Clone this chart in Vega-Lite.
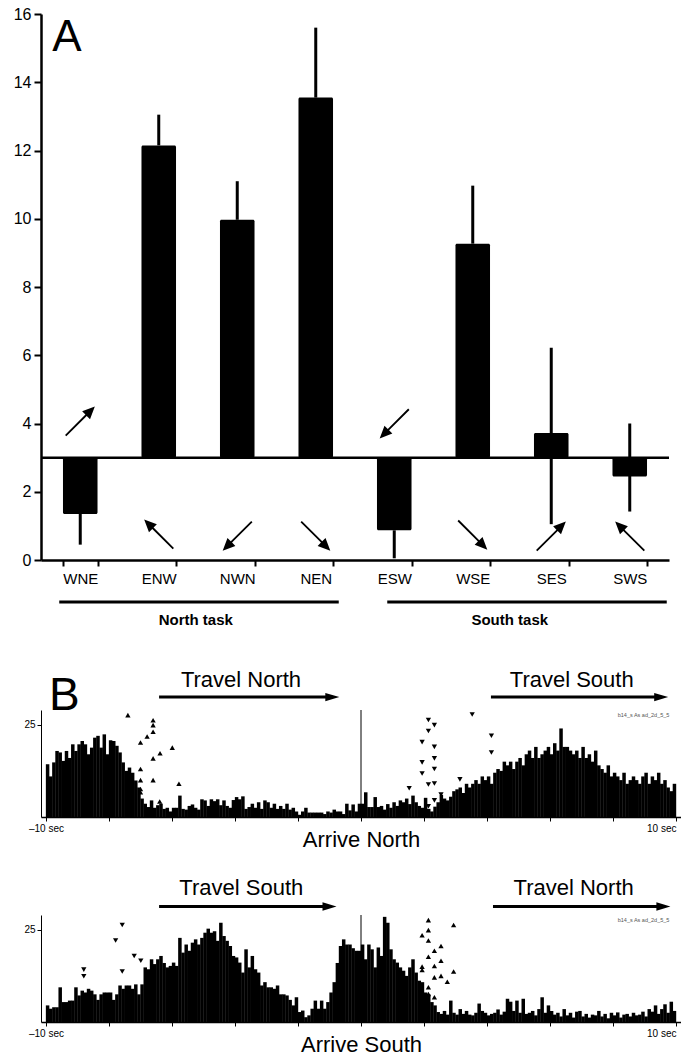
{
  "$schema": "https://vega.github.io/schema/vega-lite/v6.json",
  "padding": {"left": 13, "top": 6, "right": 0, "bottom": 0},
  "autosize": {"type": "pad"},
  "bounds": "flush",
  "spacing": 150,
  "config": {
    "view": {"stroke": null},
    "font": "Liberation Sans",
    "axis": {"grid": false, "domainColor": "black", "tickColor": "black", "labelColor": "black", "titleColor": "black"}
  },
  "datasets": {
    "dirs": [
      {"dir": "WNE", "mean": 1.35, "lo": 0.45, "hi": 1.35, "ay": 4.07, "heading": 45},
      {"dir": "ENW", "mean": 12.15, "lo": 12.15, "hi": 13.05, "ay": 0.76, "heading": 315},
      {"dir": "NWN", "mean": 9.97, "lo": 9.97, "hi": 11.1, "ay": 0.7, "heading": 225},
      {"dir": "NEN", "mean": 13.55, "lo": 13.55, "hi": 15.6, "ay": 0.7, "heading": 135},
      {"dir": "ESW", "mean": 0.87, "lo": 0.05, "hi": 0.87, "ay": 3.99, "heading": 225},
      {"dir": "WSE", "mean": 9.27, "lo": 9.27, "hi": 10.97, "ay": 0.73, "heading": 135},
      {"dir": "SES", "mean": 3.72, "lo": 1.05, "hi": 6.22, "ay": 0.7, "heading": 45},
      {"dir": "SWS", "mean": 2.45, "lo": 1.42, "hi": 4.0, "ay": 0.7, "heading": 315}
    ],
    "north": [
      {"t":-10,"n":14.3},{"t":-9.9,"n":11},{"t":-9.8,"n":14.8},{"t":-9.7,"n":17.9},{"t":-9.6,"n":17.5},{"t":-9.5,"n":15.2},{"t":-9.4,"n":17.9},{"t":-9.3,"n":16},{"t":-9.2,"n":19.7},{"t":-9.1,"n":17.9},
      {"t":-9,"n":19.7},{"t":-8.9,"n":20.6},{"t":-8.8,"n":19.7},{"t":-8.7,"n":17},{"t":-8.6,"n":18.8},{"t":-8.5,"n":21.5},{"t":-8.4,"n":22},{"t":-8.3,"n":18.8},{"t":-8.2,"n":22.4},{"t":-8.1,"n":17},
      {"t":-8,"n":20.8},{"t":-7.9,"n":20.6},{"t":-7.8,"n":19.3},{"t":-7.7,"n":17.5},{"t":-7.6,"n":14.8},{"t":-7.5,"n":12.5},{"t":-7.4,"n":13.4},{"t":-7.3,"n":12},{"t":-7.2,"n":9.9},{"t":-7.1,"n":8},
      {"t":-7,"n":5},{"t":-6.9,"n":3.6},{"t":-6.8,"n":2.7},{"t":-6.7,"n":4.5},{"t":-6.6,"n":2.5},{"t":-6.5,"n":3.2},{"t":-6.4,"n":3.6},{"t":-6.3,"n":2.2},{"t":-6.2,"n":2.5},{"t":-6.1,"n":1.5},
      {"t":-6,"n":2.5},{"t":-5.9,"n":2.5},{"t":-5.8,"n":5.8},{"t":-5.7,"n":2.2},{"t":-5.6,"n":2},{"t":-5.5,"n":3},{"t":-5.4,"n":3.4},{"t":-5.3,"n":2.5},{"t":-5.2,"n":2},{"t":-5.1,"n":4.8},
      {"t":-5,"n":4.5},{"t":-4.9,"n":3},{"t":-4.8,"n":4.8},{"t":-4.7,"n":4.3},{"t":-4.6,"n":4.8},{"t":-4.5,"n":3.2},{"t":-4.4,"n":4.5},{"t":-4.3,"n":3},{"t":-4.2,"n":2.5},{"t":-4.1,"n":4.6},
      {"t":-4,"n":5.4},{"t":-3.9,"n":4.8},{"t":-3.8,"n":5.6},{"t":-3.7,"n":2.2},{"t":-3.6,"n":2.7},{"t":-3.5,"n":3.6},{"t":-3.4,"n":2.5},{"t":-3.3,"n":4},{"t":-3.2,"n":2.2},{"t":-3.1,"n":4.5},
      {"t":-3,"n":4},{"t":-2.9,"n":2.5},{"t":-2.8,"n":3.6},{"t":-2.7,"n":2.2},{"t":-2.6,"n":3},{"t":-2.5,"n":2.2},{"t":-2.4,"n":3.6},{"t":-2.3,"n":2},{"t":-2.2,"n":2.5},{"t":-2.1,"n":1.5},
      {"t":-2,"n":0.6},{"t":-1.9,"n":1.5},{"t":-1.8,"n":2.5},{"t":-1.7,"n":1.2},{"t":-1.6,"n":1.2},{"t":-1.5,"n":1.2},{"t":-1.4,"n":1.2},{"t":-1.3,"n":1.2},{"t":-1.2,"n":0.8},{"t":-1.1,"n":1.5},
      {"t":-1,"n":1.2},{"t":-0.9,"n":2},{"t":-0.8,"n":1.5},{"t":-0.7,"n":1.5},{"t":-0.6,"n":0.8},{"t":-0.5,"n":3.6},{"t":-0.4,"n":1.8},{"t":-0.3,"n":3.4},{"t":-0.2,"n":1.5},{"t":-0.1,"n":3.6},
      {"t":0,"n":3.6},{"t":0.1,"n":6.7},{"t":0.2,"n":2.7},{"t":0.3,"n":2.7},{"t":0.4,"n":5.4},{"t":0.5,"n":2.7},{"t":0.6,"n":3},{"t":0.7,"n":2},{"t":0.8,"n":3.5},{"t":0.9,"n":2.5},
      {"t":1,"n":4},{"t":1.1,"n":3},{"t":1.2,"n":4.5},{"t":1.3,"n":4},{"t":1.4,"n":5},{"t":1.5,"n":3.5},{"t":1.6,"n":5.8},{"t":1.7,"n":4},{"t":1.8,"n":3},{"t":1.9,"n":2.5},
      {"t":2,"n":5.2},{"t":2.1,"n":2.2},{"t":2.2,"n":1.5},{"t":2.3,"n":2.8},{"t":2.4,"n":4},{"t":2.5,"n":6},{"t":2.6,"n":5},{"t":2.7,"n":4.5},{"t":2.8,"n":5.5},{"t":2.9,"n":7},
      {"t":3,"n":7.5},{"t":3.1,"n":8},{"t":3.2,"n":6.5},{"t":3.3,"n":9},{"t":3.4,"n":8},{"t":3.5,"n":9},{"t":3.6,"n":10},{"t":3.7,"n":9},{"t":3.8,"n":11},{"t":3.9,"n":10},
      {"t":4,"n":11},{"t":4.1,"n":9},{"t":4.2,"n":12},{"t":4.3,"n":13},{"t":4.4,"n":12.5},{"t":4.5,"n":15},{"t":4.6,"n":14},{"t":4.7,"n":15},{"t":4.8,"n":13},{"t":4.9,"n":15},
      {"t":5,"n":16},{"t":5.1,"n":14},{"t":5.2,"n":17},{"t":5.3,"n":18},{"t":5.4,"n":16},{"t":5.5,"n":19},{"t":5.6,"n":16},{"t":5.7,"n":17},{"t":5.8,"n":18},{"t":5.9,"n":19},
      {"t":6,"n":17},{"t":6.1,"n":20},{"t":6.2,"n":18},{"t":6.3,"n":24},{"t":6.4,"n":19},{"t":6.5,"n":19},{"t":6.6,"n":18},{"t":6.7,"n":17},{"t":6.8,"n":18},{"t":6.9,"n":16},
      {"t":7,"n":19},{"t":7.1,"n":16},{"t":7.2,"n":17},{"t":7.3,"n":15},{"t":7.4,"n":18},{"t":7.5,"n":14},{"t":7.6,"n":13},{"t":7.7,"n":12},{"t":7.8,"n":14},{"t":7.9,"n":11},
      {"t":8,"n":12},{"t":8.1,"n":11},{"t":8.2,"n":10},{"t":8.3,"n":12},{"t":8.4,"n":9},{"t":8.5,"n":10},{"t":8.6,"n":11},{"t":8.7,"n":10},{"t":8.8,"n":9},{"t":8.9,"n":11},
      {"t":9,"n":12},{"t":9.1,"n":9},{"t":9.2,"n":11},{"t":9.3,"n":10},{"t":9.4,"n":12},{"t":9.5,"n":9},{"t":9.6,"n":10},{"t":9.7,"n":8},{"t":9.8,"n":7},{"t":9.9,"n":9}
    ],
    "south": [
      {"t":-10,"n":4.5},{"t":-9.9,"n":3.6},{"t":-9.8,"n":4},{"t":-9.7,"n":4},{"t":-9.6,"n":9.4},{"t":-9.5,"n":5.4},{"t":-9.4,"n":5.4},{"t":-9.3,"n":5.8},{"t":-9.2,"n":5.8},{"t":-9.1,"n":9.4},
      {"t":-9,"n":7.2},{"t":-8.9,"n":8.5},{"t":-8.8,"n":8},{"t":-8.7,"n":9},{"t":-8.6,"n":8.5},{"t":-8.5,"n":7.5},{"t":-8.4,"n":6},{"t":-8.3,"n":7.5},{"t":-8.2,"n":8},{"t":-8.1,"n":8},
      {"t":-8,"n":8},{"t":-7.9,"n":6},{"t":-7.8,"n":7.5},{"t":-7.7,"n":9.9},{"t":-7.6,"n":9},{"t":-7.5,"n":9.9},{"t":-7.4,"n":9.9},{"t":-7.3,"n":9},{"t":-7.2,"n":10.2},{"t":-7.1,"n":7.5},
      {"t":-7,"n":10.2},{"t":-6.9,"n":14.8},{"t":-6.8,"n":14.3},{"t":-6.7,"n":17},{"t":-6.6,"n":15.7},{"t":-6.5,"n":17},{"t":-6.4,"n":17.9},{"t":-6.3,"n":16},{"t":-6.2,"n":14.8},{"t":-6.1,"n":15.2},
      {"t":-6,"n":16.1},{"t":-5.9,"n":15.2},{"t":-5.8,"n":22.8},{"t":-5.7,"n":18.8},{"t":-5.6,"n":21},{"t":-5.5,"n":19.3},{"t":-5.4,"n":21.5},{"t":-5.3,"n":22.4},{"t":-5.2,"n":21},{"t":-5.1,"n":22.8},
      {"t":-5,"n":24.2},{"t":-4.9,"n":25.3},{"t":-4.8,"n":24.2},{"t":-4.7,"n":24.6},{"t":-4.6,"n":22},{"t":-4.5,"n":26.9},{"t":-4.4,"n":23.3},{"t":-4.3,"n":22},{"t":-4.2,"n":20.6},{"t":-4.1,"n":17.9},
      {"t":-4,"n":17.5},{"t":-3.9,"n":16.1},{"t":-3.8,"n":13.4},{"t":-3.7,"n":19.7},{"t":-3.6,"n":14.8},{"t":-3.5,"n":17.9},{"t":-3.4,"n":14.3},{"t":-3.3,"n":13.4},{"t":-3.2,"n":9.9},{"t":-3.1,"n":10.8},
      {"t":-3,"n":9.4},{"t":-2.9,"n":9.4},{"t":-2.8,"n":9},{"t":-2.7,"n":9.9},{"t":-2.6,"n":7.5},{"t":-2.5,"n":7.5},{"t":-2.4,"n":7.2},{"t":-2.3,"n":6},{"t":-2.2,"n":4.5},{"t":-2.1,"n":6.7},
      {"t":-2,"n":2.7},{"t":-1.9,"n":3.1},{"t":-1.8,"n":1.3},{"t":-1.7,"n":1.8},{"t":-1.6,"n":3.6},{"t":-1.5,"n":5.8},{"t":-1.4,"n":3.6},{"t":-1.3,"n":5.8},{"t":-1.2,"n":3.6},{"t":-1.1,"n":5.4},
      {"t":-1,"n":8},{"t":-0.9,"n":10.8},{"t":-0.8,"n":16},{"t":-0.7,"n":20.6},{"t":-0.6,"n":22.4},{"t":-0.5,"n":21},{"t":-0.4,"n":21},{"t":-0.3,"n":20},{"t":-0.2,"n":19.3},{"t":-0.1,"n":19.3},
      {"t":0,"n":21},{"t":0.1,"n":17},{"t":0.2,"n":21},{"t":0.3,"n":19.7},{"t":0.4,"n":14.8},{"t":0.5,"n":20.2},{"t":0.6,"n":17.9},{"t":0.7,"n":28.5},{"t":0.8,"n":26.9},{"t":0.9,"n":19.7},
      {"t":1,"n":17},{"t":1.1,"n":16.1},{"t":1.2,"n":14.8},{"t":1.3,"n":13.9},{"t":1.4,"n":12.5},{"t":1.5,"n":14.8},{"t":1.6,"n":17},{"t":1.7,"n":13.4},{"t":1.8,"n":11.2},{"t":1.9,"n":10.8},
      {"t":2,"n":8},{"t":2.1,"n":7.5},{"t":2.2,"n":5.4},{"t":2.3,"n":4.5},{"t":2.4,"n":2.7},{"t":2.5,"n":2.2},{"t":2.6,"n":3},{"t":2.7,"n":2},{"t":2.8,"n":5.8},{"t":2.9,"n":2.5},
      {"t":3,"n":2},{"t":3.1,"n":3.5},{"t":3.2,"n":2.2},{"t":3.3,"n":3},{"t":3.4,"n":2},{"t":3.5,"n":1.8},{"t":3.6,"n":2.5},{"t":3.7,"n":5},{"t":3.8,"n":3},{"t":3.9,"n":2.5},
      {"t":4,"n":1.8},{"t":4.1,"n":2.2},{"t":4.2,"n":2.5},{"t":4.3,"n":3.4},{"t":4.4,"n":2},{"t":4.5,"n":2.8},{"t":4.6,"n":6.3},{"t":4.7,"n":5.5},{"t":4.8,"n":3},{"t":4.9,"n":5.8},
      {"t":5,"n":2.5},{"t":5.1,"n":6.3},{"t":5.2,"n":2.2},{"t":5.3,"n":2.5},{"t":5.4,"n":3},{"t":5.5,"n":1.8},{"t":5.6,"n":3.5},{"t":5.7,"n":6.7},{"t":5.8,"n":2.5},{"t":5.9,"n":4.5},
      {"t":6,"n":3},{"t":6.1,"n":2},{"t":6.2,"n":2.5},{"t":6.3,"n":1.5},{"t":6.4,"n":3.5},{"t":6.5,"n":1.8},{"t":6.6,"n":2.5},{"t":6.7,"n":1.2},{"t":6.8,"n":2.8},{"t":6.9,"n":3},
      {"t":7,"n":1.5},{"t":7.1,"n":2.2},{"t":7.2,"n":1.2},{"t":7.3,"n":2},{"t":7.4,"n":1.8},{"t":7.5,"n":3},{"t":7.6,"n":1.5},{"t":7.7,"n":2.2},{"t":7.8,"n":1},{"t":7.9,"n":2.5},
      {"t":8,"n":1.8},{"t":8.1,"n":2.6},{"t":8.2,"n":1.2},{"t":8.3,"n":2},{"t":8.4,"n":2.2},{"t":8.5,"n":1.5},{"t":8.6,"n":2.5},{"t":8.7,"n":1.8},{"t":8.8,"n":2},{"t":8.9,"n":2.8},
      {"t":9,"n":1.5},{"t":9.1,"n":3.5},{"t":9.2,"n":2.8},{"t":9.3,"n":4.5},{"t":9.4,"n":2.2},{"t":9.5,"n":3.5},{"t":9.6,"n":4.8},{"t":9.7,"n":2.5},{"t":9.8,"n":5.5},{"t":9.9,"n":3}
    ],
    "north_ev": [
      {"t":-7.4,"v":27.6,"kind":"up"},{"t":-7.0,"v":20.2,"kind":"up"},{"t":-6.79,"v":21.8,"kind":"up"},{"t":-6.6,"v":26.2,"kind":"up"},{"t":-6.6,"v":24.9,"kind":"up"},{"t":-6.6,"v":23.1,"kind":"up"},{"t":-6.38,"v":17.3,"kind":"up"},{"t":-6.6,"v":15.9,"kind":"up"},{"t":-5.99,"v":18.8,"kind":"up"},{"t":-7.0,"v":13,"kind":"up"},{"t":-7.0,"v":10,"kind":"up"},{"t":-7.0,"v":7.6,"kind":"up"},{"t":-7.0,"v":6.7,"kind":"up"},{"t":-6.6,"v":10,"kind":"up"},{"t":-5.78,"v":9,"kind":"up"},{"t":-6.39,"v":4.2,"kind":"up"},
      {"t":2.14,"v":26.3,"kind":"down"},{"t":2.33,"v":24.9,"kind":"down"},{"t":2.14,"v":23.3,"kind":"down"},{"t":1.94,"v":20.3,"kind":"down"},{"t":2.33,"v":19,"kind":"down"},{"t":2.33,"v":15.9,"kind":"down"},{"t":1.94,"v":14.8,"kind":"down"},{"t":1.94,"v":11.8,"kind":"down"},{"t":2.33,"v":13,"kind":"down"},{"t":2.14,"v":8.8,"kind":"down"},{"t":2.33,"v":9.1,"kind":"down"},{"t":1.53,"v":7.8,"kind":"down"},{"t":3.14,"v":10.2,"kind":"down"},{"t":3.53,"v":27.8,"kind":"down"},{"t":4.14,"v":22,"kind":"down"},{"t":4.14,"v":17.5,"kind":"down"},{"t":2.33,"v":4.5,"kind":"down"},{"t":2.54,"v":6.1,"kind":"down"},{"t":2.14,"v":2.9,"kind":"down"}
    ],
    "south_ev": [
      {"t":-8.8,"v":14.2,"kind":"down"},{"t":-8.8,"v":12.4,"kind":"down"},{"t":-7.79,"v":22.1,"kind":"down"},{"t":-7.58,"v":26.3,"kind":"down"},{"t":-7.2,"v":17.9,"kind":"down"},{"t":-6.99,"v":16.6,"kind":"down"},{"t":-7.58,"v":13.7,"kind":"down"},
      {"t":2.14,"v":27.6,"kind":"up"},{"t":2.14,"v":24.9,"kind":"up"},{"t":1.94,"v":23.5,"kind":"up"},{"t":2.14,"v":22.1,"kind":"up"},{"t":2.54,"v":20.6,"kind":"up"},{"t":2.33,"v":19.3,"kind":"up"},{"t":2.14,"v":17.7,"kind":"up"},{"t":2.54,"v":16.6,"kind":"up"},{"t":2.33,"v":15.2,"kind":"up"},{"t":1.94,"v":15,"kind":"up"},{"t":1.94,"v":14.1,"kind":"up"},{"t":2.33,"v":12.1,"kind":"up"},{"t":2.54,"v":12.5,"kind":"up"},{"t":2.74,"v":10.9,"kind":"up"},{"t":2.94,"v":26.3,"kind":"up"},{"t":2.94,"v":13.7,"kind":"up"},{"t":2.14,"v":9.4,"kind":"up"},{"t":2.14,"v":7.6,"kind":"up"},{"t":2.33,"v":6.7,"kind":"up"}
    ]
  },
  "vconcat": [
    {
      "width": 628,
      "height": 546,
      "data": {"name": "dirs"},
      "layer": [
        {
          "mark": {"type": "bar", "color": "black", "cornerRadius": 1.5},
          "encoding": {
            "x": {"field": "dir", "type": "nominal", "sort": null,
                  "scale": {"domain": ["WNE","ENW","NWN","NEN","ESW","WSE","SES","SWS"], "paddingInner": 0.56, "paddingOuter": 0.28},
                  "axis": {"title": null, "labelAngle": 0, "labelFontSize": 15, "labelPadding": 5, "tickSize": 6, "tickWidth": 2, "domainWidth": 2.5, "tickBand": "extent"}},
            "y": {"field": "mean", "type": "quantitative",
                  "scale": {"domain": [0, 16], "nice": false},
                  "axis": {"title": null, "values": [0,2,4,6,8,10,12,14,16], "labelFontSize": 16, "tickSize": 7, "tickWidth": 2, "domainWidth": 2.5, "labelPadding": 3}},
            "y2": {"datum": 3}
          }
        },
        {
          "mark": {"type": "rule", "color": "black", "strokeWidth": 3},
          "encoding": {
            "x": {"field": "dir", "type": "nominal", "sort": null},
            "y": {"field": "lo", "type": "quantitative"},
            "y2": {"field": "hi"}
          }
        },
        {
          "data": {"values": [{}]},
          "mark": {"type": "rule", "color": "black", "strokeWidth": 2.5},
          "encoding": {"y": {"datum": 3}}
        },
        {
          "mark": {"type": "point", "shape": "M-0.045,1L0.045,1L0.045,-0.4L0.27,-0.4L0,-1L-0.27,-0.4L-0.045,-0.4Z", "size": 1700, "filled": true, "color": "black", "opacity": 1, "strokeWidth": 0},
          "encoding": {
            "x": {"field": "dir", "type": "nominal", "sort": null},
            "y": {"field": "ay", "type": "quantitative"},
            "angle": {"field": "heading", "type": "quantitative", "scale": null}
          }
        },
        {
          "data": {"values": [{"label": "A"}]},
          "mark": {"type": "text", "fontSize": 44, "align": "left", "baseline": "top", "dx": -28, "dy": 2, "color": "black"},
          "encoding": {
            "x": {"datum": "WNE"},
            "y": {"datum": 16},
            "text": {"field": "label"}
          }
        },
        {
          "data": {"values": [{"from": "WNE", "to": "NEN"}]},
          "mark": {"type": "rule", "color": "black", "strokeWidth": 3, "xOffset": -21, "x2Offset": 23},
          "encoding": {
            "x": {"field": "from", "type": "nominal"},
            "x2": {"field": "to"},
            "y": {"datum": -1.23}
          }
        },
        {
          "data": {"values": [{"from": "ESW", "to": "SWS"}]},
          "mark": {"type": "rule", "color": "black", "strokeWidth": 3, "xOffset": -7, "x2Offset": 37},
          "encoding": {
            "x": {"field": "from", "type": "nominal"},
            "x2": {"field": "to"},
            "y": {"datum": -1.23}
          }
        },
        {
          "data": {"values": [{"task": "North task", "mid": "ENW"}, {"task": "South task", "mid": "WSE"}]},
          "mark": {"type": "text", "fontSize": 15, "fontWeight": "bold", "dx": 37, "color": "black"},
          "encoding": {
            "x": {"field": "mid", "type": "nominal"},
            "y": {"datum": -1.76},
            "text": {"field": "task"}
          }
        }
      ]
    },
    {
      "bounds": "flush",
      "spacing": 98,
      "vconcat": [
        {
          "width": 640,
          "height": 107,
          "layer": [
            {
              "data": {"name": "north"},
              "mark": {"type": "bar", "color": "black", "width": 3.5, "xOffset": 1.6},
              "encoding": {
                "x": {"field": "t", "type": "quantitative",
                      "scale": {"domain": [-10, 10], "nice": false},
                      "axis": {"title": "Arrive North", "titleFontSize": 22, "titleFontWeight": "normal", "titlePadding": -4,
                               "values": [-10,-9,-8,-7,-6,-5,-4,-3,-2,-1,0,1,2,3,4,5,6,7,8,9,10],
                               "labelExpr": "datum.value == -10 ? '–10 sec' : (datum.value == 10 ? '10 sec' : '')",
                               "labelAlign": {"condition": {"test": "datum.value == 10", "value": "right"}, "value": "center"},
                               "labelFontSize": 10, "labelFlush": false, "labelOverlap": false, "tickSize": 4, "domainWidth": 1.5}},
                "y": {"field": "n", "type": "quantitative",
                      "scale": {"domain": [0, 29], "nice": false},
                      "axis": {"title": null, "values": [25], "labelFontSize": 10, "tickSize": 4, "domainWidth": 1}}
              }
            },
            {
              "data": {"values": [{}]},
              "mark": {"type": "rule", "color": "black", "strokeWidth": 1},
              "encoding": {"x": {"datum": 0}}
            },
            {
              "data": {"name": "north_ev"},
              "mark": {"type": "point", "filled": true, "color": "black", "size": 28, "opacity": 1},
              "encoding": {
                "x": {"field": "t", "type": "quantitative"},
                "y": {"field": "v", "type": "quantitative"},
                "shape": {"field": "kind", "type": "nominal", "scale": {"domain": ["up", "down"], "range": ["triangle-up", "triangle-down"]}, "legend": null}
              }
            },
            {
              "data": {"values": [{"label": "B"}]},
              "mark": {"type": "text", "fontSize": 46, "align": "left", "baseline": "alphabetic", "dx": 3, "color": "black"},
              "encoding": {
                "x": {"datum": -10},
                "y": {"datum": 29},
                "text": {"field": "label"}
              }
            },
            {
              "data": {"values": [{"label": "Travel North", "at": -3.81}, {"label": "Travel South", "at": 6.69}]},
              "mark": {"type": "text", "fontSize": 22, "color": "black"},
              "encoding": {
                "x": {"field": "at", "type": "quantitative"},
                "y": {"datum": 37.1},
                "text": {"field": "label"}
              }
            },
            {
              "data": {"values": [{"from": -6.41, "to": -0.91}, {"from": 4.125, "to": 9.53}]},
              "layer": [
                {
                  "mark": {"type": "rule", "color": "black", "strokeWidth": 3},
                  "encoding": {
                    "x": {"field": "from", "type": "quantitative"},
                    "x2": {"field": "to"},
                    "y": {"datum": 32.5}
                  }
                },
                {
                  "mark": {"type": "point", "shape": "M-1,-0.6L1,0L-1,0.6Z", "size": 196, "filled": true, "color": "black", "opacity": 1, "strokeWidth": 0},
                  "encoding": {
                    "x": {"field": "to", "type": "quantitative"},
                    "y": {"datum": 32.5}
                  }
                }
              ]
            },
            {
              "data": {"values": [{"label": "b14_s As ad_2d_5_5"}]},
              "mark": {"type": "text", "fontSize": 5.5, "color": "#555555"},
              "encoding": {
                "x": {"datum": 8.97},
                "y": {"datum": 27.6},
                "text": {"field": "label"}
              }
            }
          ]
        },
        {
          "width": 640,
          "height": 107,
          "layer": [
            {
              "data": {"name": "south"},
              "mark": {"type": "bar", "color": "black", "width": 3.5, "xOffset": 1.6},
              "encoding": {
                "x": {"field": "t", "type": "quantitative",
                      "scale": {"domain": [-10, 10], "nice": false},
                      "axis": {"title": "Arrive South", "titleFontSize": 22, "titleFontWeight": "normal", "titlePadding": -4,
                               "values": [-10,-9,-8,-7,-6,-5,-4,-3,-2,-1,0,1,2,3,4,5,6,7,8,9,10],
                               "labelExpr": "datum.value == -10 ? '–10 sec' : (datum.value == 10 ? '10 sec' : '')",
                               "labelAlign": {"condition": {"test": "datum.value == 10", "value": "right"}, "value": "center"},
                               "labelFontSize": 10, "labelFlush": false, "labelOverlap": false, "tickSize": 4, "domainWidth": 1.5}},
                "y": {"field": "n", "type": "quantitative",
                      "scale": {"domain": [0, 29], "nice": false},
                      "axis": {"title": null, "values": [25], "labelFontSize": 10, "tickSize": 4, "domainWidth": 1}}
              }
            },
            {
              "data": {"values": [{}]},
              "mark": {"type": "rule", "color": "black", "strokeWidth": 1},
              "encoding": {"x": {"datum": 0}}
            },
            {
              "data": {"name": "south_ev"},
              "mark": {"type": "point", "filled": true, "color": "black", "size": 28, "opacity": 1},
              "encoding": {
                "x": {"field": "t", "type": "quantitative"},
                "y": {"field": "v", "type": "quantitative"},
                "shape": {"field": "kind", "type": "nominal", "scale": {"domain": ["up", "down"], "range": ["triangle-up", "triangle-down"]}, "legend": null}
              }
            },
            {
              "data": {"values": [{"label": "Travel South", "at": -3.8}, {"label": "Travel North", "at": 6.75}]},
              "mark": {"type": "text", "fontSize": 22, "color": "black"},
              "encoding": {
                "x": {"field": "at", "type": "quantitative"},
                "y": {"datum": 36.3},
                "text": {"field": "label"}
              }
            },
            {
              "data": {"values": [{"from": -6.41, "to": -1.0}, {"from": 4.19, "to": 9.6}]},
              "layer": [
                {
                  "mark": {"type": "rule", "color": "black", "strokeWidth": 3},
                  "encoding": {
                    "x": {"field": "from", "type": "quantitative"},
                    "x2": {"field": "to"},
                    "y": {"datum": 31.3}
                  }
                },
                {
                  "mark": {"type": "point", "shape": "M-1,-0.6L1,0L-1,0.6Z", "size": 196, "filled": true, "color": "black", "opacity": 1, "strokeWidth": 0},
                  "encoding": {
                    "x": {"field": "to", "type": "quantitative"},
                    "y": {"datum": 31.3}
                  }
                }
              ]
            },
            {
              "data": {"values": [{"label": "b14_s As ad_2d_5_5"}]},
              "mark": {"type": "text", "fontSize": 5.5, "color": "#555555"},
              "encoding": {
                "x": {"datum": 8.97},
                "y": {"datum": 27.7},
                "text": {"field": "label"}
              }
            }
          ]
        }
      ]
    }
  ]
}
